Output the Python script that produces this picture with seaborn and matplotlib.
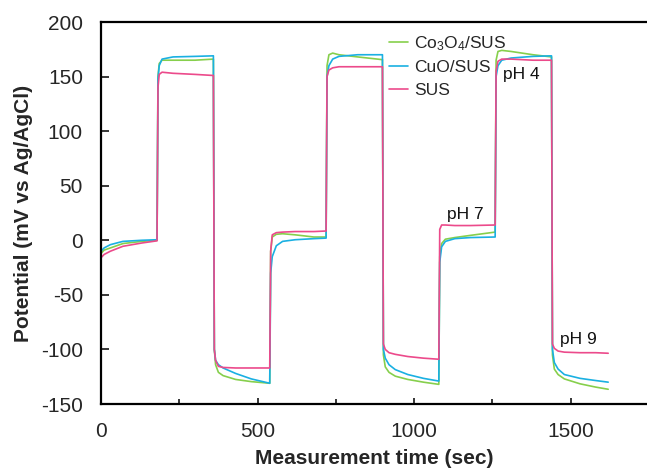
import numpy as np
import pandas as pd
import matplotlib
matplotlib.use('Agg')
import matplotlib.pyplot as plt
from matplotlib.ticker import MultipleLocator
import seaborn as sns

# measurement times (sec), shared by all three electrodes
time_s = [0, 10, 30, 70, 130, 179,
          182, 186, 195, 230, 300, 359,
          362, 366, 375, 390, 430, 480, 539,
          542, 547, 560, 580, 620, 680, 719,
          722, 728, 740, 760, 820, 899,
          902, 908, 920, 940, 980, 1030, 1079,
          1082, 1088, 1100, 1130, 1180, 1259,
          1262, 1268, 1280, 1310, 1380, 1439,
          1442, 1448, 1460, 1480, 1530, 1580, 1620]

# potential (mV vs Ag/AgCl)
co3o4_sus = [-12, -9, -7, -3, -1, 0,
             150, 162, 165, 165, 165, 166,
             -100, -114, -121, -124, -127.5, -129.5, -131,
             -10, 3, 5.5, 6, 5, 3, 3,
             160, 170, 171.5, 170, 168, 165.5,
             -105, -116, -121, -124.5, -127.5, -130, -132,
             -15, -3, 1, 2.5, 4.5, 7.5,
             165, 173, 174, 173, 170, 168,
             -105, -118, -123, -127, -131.5, -134.5, -136.5]

cuo_sus = [-10, -7, -4, -1, 0, 0.5,
           148, 160, 166, 168, 168.5, 169,
           -100, -110, -114, -117, -122, -127, -131,
           -30, -15, -5, -1, 0.5, 1.5, 2,
           150, 160, 166, 168.5, 170, 170,
           -100, -108, -114, -118.5, -123, -126.5, -129,
           -20, -6, -1, 1.5, 2.5, 3,
           150, 160, 165, 167, 168.5, 169,
           -100, -112, -118, -123, -126.5, -128.5, -130]

sus = [-16, -13, -10, -5.5, -2.5, -0.5,
       140, 152, 154, 153, 152, 151,
       -100, -110, -115.5, -116.5, -117, -117, -117,
       -10, 5, 7, 7.5, 8, 8, 8.5,
       150, 156, 158, 159, 159, 159,
       -95, -100, -103, -104.5, -106.5, -108, -109,
       10, 14, 14, 13.5, 13.5, 14,
       155, 164, 166, 166, 165, 165,
       -95, -99, -101.5, -102.5, -103, -103, -103.5]

labels = ['Co$_3$O$_4$/SUS', 'CuO/SUS', 'SUS']
colors = ['#86CF4C', '#1AB0E2', '#EC4A8B']

ph_labels = ['pH 7', 'pH 4', 'pH 9']
ph_x = [1164, 1344, 1524]
ph_y = [24, 152, -91]

df = pd.concat([
    pd.DataFrame({'time': time_s, 'potential': co3o4_sus, 'sample': labels[0]}),
    pd.DataFrame({'time': time_s, 'potential': cuo_sus, 'sample': labels[1]}),
    pd.DataFrame({'time': time_s, 'potential': sus, 'sample': labels[2]}),
], ignore_index=True)

sns.set_style('ticks')
plt.rcParams['font.family'] = ['Liberation Sans', 'DejaVu Sans']
plt.rcParams['axes.unicode_minus'] = False
plt.rcParams['mathtext.fontset'] = 'custom'
plt.rcParams['mathtext.rm'] = 'Liberation Sans'
plt.rcParams['mathtext.it'] = 'Liberation Sans:italic'
plt.rcParams['mathtext.bf'] = 'Liberation Sans:bold'

fig = plt.figure(figsize=(6.47, 4.69), dpi=100)
ax = fig.add_axes([101 / 647, 65 / 469, 546 / 647, 382 / 469])

sns.lineplot(data=df, x='time', y='potential', hue='sample',
             hue_order=labels, palette=dict(zip(labels, colors)),
             sort=False, estimator=None, linewidth=1.2, ax=ax)

ax.set_xlim(0, 1744)
ax.set_ylim(-150, 200)
ax.xaxis.set_major_locator(MultipleLocator(500))
ax.xaxis.set_minor_locator(MultipleLocator(250))
ax.yaxis.set_major_locator(MultipleLocator(50))

for s in ['left', 'bottom', 'top']:
    ax.spines[s].set_linewidth(1.6)
    ax.spines[s].set_color('black')
ax.spines['right'].set_visible(False)

ax.tick_params(axis='x', which='major', direction='in', length=4.5, width=1.3,
               labelsize=15, pad=13, top=False)
ax.tick_params(axis='x', which='minor', direction='in', length=3.5, width=1.3,
               top=False)
ax.tick_params(axis='y', which='major', direction='in', length=6, width=1.3,
               labelsize=15, pad=13, right=False)

ax.set_xlabel('Measurement time (sec)', fontsize=15, fontweight='bold', labelpad=6)
ax.set_ylabel('Potential (mV vs Ag/AgCl)', fontsize=15, fontweight='bold', labelpad=6)

for txt, x, y in zip(ph_labels, ph_x, ph_y):
    ax.text(x, y, txt, fontsize=12.5, ha='center', va='center', color='#111111')

handles, lbls = ax.get_legend_handles_labels()
ax.legend(handles, lbls, loc='upper left', bbox_to_anchor=(0.527, 0.968),
          frameon=False, fontsize=12.5, handlelength=1.1, handletextpad=0.35,
          labelspacing=0.42, borderpad=0, borderaxespad=0)

fig.savefig('out.png', dpi=100)
